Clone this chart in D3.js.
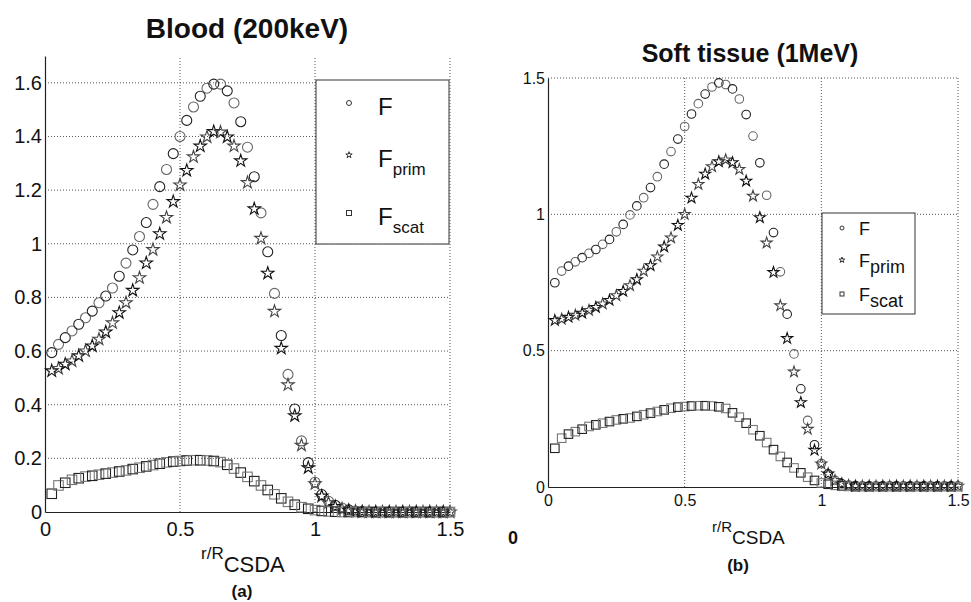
<!DOCTYPE html>
<html>
<head>
<meta charset="utf-8">
<script src="https://cdn.jsdelivr.net/npm/d3@7"></script>
<style>
  body { margin: 0; background: #fff; }
  text { font-family: "Liberation Sans", Arial, sans-serif; fill: #111; }
</style>
</head>
<body>
<div id="chart"></div>
<script>
// r / R_CSDA sample positions (same grid in both panels)
var rValues = [0.025,0.05,0.075,0.1,0.125,0.15,0.175,0.2,0.225,0.25,0.275,0.3,0.325,0.35,0.375,0.4,0.425,0.45,0.475,0.5,
               0.525,0.55,0.575,0.6,0.625,0.65,0.675,0.7,0.725,0.75,0.775,0.8,0.825,0.85,0.875,0.9,0.925,0.95,0.975,1.0,
               1.025,1.05,1.075,1.1,1.125,1.15,1.175,1.2,1.225,1.25,1.275,1.3,1.325,1.35,1.375,1.4,1.425,1.45,1.475,1.5];

// (a) Blood 200keV
var bloodF = [0.594,0.625,0.65,0.675,0.70,0.724,0.749,0.78,0.805,0.835,0.879,0.928,0.977,1.027,1.079,1.147,1.213,1.277,1.336,1.40,
              1.46,1.51,1.55,1.58,1.595,1.595,1.57,1.525,1.455,1.36,1.25,1.115,0.97,0.815,0.658,0.513,0.384,0.265,0.184,0.111,
              0.065,0.04,0.025,0.015,0.008,0.004,0.002,0.001,0,0,0,0,0,0,0,0,0,0,0,0];
var bloodPrim = [0.526,0.535,0.551,0.563,0.582,0.60,0.619,0.644,0.671,0.705,0.743,0.78,0.826,0.873,0.928,0.978,1.037,1.098,1.157,1.219,
                 1.273,1.324,1.364,1.398,1.418,1.416,1.398,1.364,1.309,1.228,1.13,1.02,0.89,0.748,0.61,0.474,0.359,0.249,0.165,0.105,
                 0.059,0.034,0.02,0.011,0.006,0.003,0.001,0,0,0,0,0,0,0,0,0,0,0,0,0];
var bloodScat = [0.068,0.099,0.109,0.12,0.126,0.132,0.135,0.139,0.143,0.147,0.151,0.155,0.16,0.165,0.17,0.175,0.18,0.185,0.188,0.19,
                 0.192,0.193,0.193,0.192,0.19,0.186,0.176,0.162,0.147,0.131,0.115,0.099,0.082,0.066,0.051,0.038,0.027,0.018,0.012,0.007,
                 0.004,0.002,0.001,0,0,0,0,0,0,0,0,0,0,0,0,0,0,0,0,0];

// (b) Soft tissue 1MeV
var tissueF = [0.749,0.792,0.81,0.826,0.841,0.857,0.871,0.89,0.908,0.936,0.963,0.998,1.031,1.061,1.098,1.138,1.184,1.23,1.276,1.322,
               1.368,1.406,1.441,1.467,1.482,1.476,1.46,1.423,1.366,1.287,1.189,1.07,0.933,0.789,0.634,0.488,0.36,0.244,0.155,0.086,
               0.048,0.024,0.012,0.007,0.005,0.004,0.004,0.004,0.004,0.004,0.004,0.004,0.004,0.004,0.004,0.004,0.004,0.004,0.004,0.004];
var tissuePrim = [0.611,0.616,0.623,0.63,0.638,0.648,0.659,0.672,0.685,0.702,0.718,0.739,0.761,0.792,0.812,0.844,0.881,0.914,0.96,1.0,
                  1.06,1.11,1.148,1.175,1.193,1.2,1.19,1.165,1.122,1.067,0.988,0.895,0.787,0.665,0.545,0.422,0.31,0.212,0.135,0.085,
                  0.048,0.024,0.012,0.006,0.003,0.003,0.003,0.003,0.003,0.003,0.003,0.003,0.003,0.003,0.003,0.003,0.003,0.003,0.003,0.003];
var tissueScat = [0.142,0.179,0.194,0.203,0.212,0.222,0.228,0.234,0.24,0.246,0.25,0.253,0.259,0.265,0.271,0.277,0.283,0.289,0.293,0.295,
                  0.297,0.298,0.298,0.297,0.294,0.288,0.272,0.256,0.234,0.21,0.188,0.163,0.137,0.112,0.09,0.07,0.052,0.036,0.024,0.015,
                  0.01,0.006,0.004,0.002,0.001,0.001,0.001,0.001,0.001,0.001,0.001,0.001,0.001,0.001,0.001,0.001,0.001,0.001,0.001,0.001];

var xTicks = [0, 0.5, 1, 1.5];
var yTicksA = [0, 0.2, 0.4, 0.6, 0.8, 1, 1.2, 1.4, 1.6];
var yTicksB = [0, 0.5, 1, 1.5];

var width = 971, height = 602;
var svg = d3.select("#chart").append("svg")
            .attr("width", width)
            .attr("height", height);

function drawPanel(p) {
    var x = d3.scaleLinear().domain([0, 1.5]).range([p.left, p.right]);
    var y = d3.scaleLinear().domain([0, p.ymax]).range([p.bottom, p.top]);
    var g = svg.append("g");

    // dotted grid
    g.selectAll(".gy").data(p.yTicks.filter(d => d > 0)).enter()
        .append("line")
        .attr("x1", p.left).attr("x2", p.right)
        .attr("y1", d => y(d)).attr("y2", d => y(d))
        .attr("stroke", "#555").attr("stroke-width", 1)
        .attr("stroke-dasharray", "1,2");
    g.selectAll(".gx").data(xTicks.filter(d => d > 0)).enter()
        .append("line")
        .attr("x1", d => x(d)).attr("x2", d => x(d))
        .attr("y1", p.bottom).attr("y2", p.top)
        .attr("stroke", "#555").attr("stroke-width", 1)
        .attr("stroke-dasharray", "1,2");

    // axes
    var ax = g.append("g")
        .attr("transform", "translate(0," + p.bottom + ")")
        .call(d3.axisBottom(x).tickValues(xTicks).tickFormat(d3.format("")).tickSize(0).tickPadding(p.xPad));
    var ay = g.append("g")
        .attr("transform", "translate(" + p.left + ",0)")
        .call(d3.axisLeft(y).tickValues(p.yTicks).tickFormat(d3.format("")).tickSize(0).tickPadding(3));
    [ax, ay].forEach(a => {
        a.select(".domain").attr("stroke", "#222").attr("stroke-width", 1.2);
        a.selectAll("text").attr("font-size", p.tickFont).attr("fill", "#111")
            .attr("font-family", "Liberation Sans, Arial, sans-serif");
    });

    // markers
    g.append("g").selectAll("circle").data(p.F).enter().append("circle")
        .attr("cx", (d, i) => x(rValues[i])).attr("cy", d => y(d))
        .attr("r", p.mr).attr("fill", "none")
        .attr("stroke", (d, i) => i % 2 ? "#666" : "#222").attr("stroke-width", 1.1);

    var star = d3.symbol().type(d3.symbolStar).size(p.starSize);
    g.append("g").selectAll("path").data(p.prim).enter().append("path")
        .attr("d", star)
        .attr("transform", (d, i) => "translate(" + x(rValues[i]) + "," + y(d) + ")")
        .attr("fill", "none").attr("stroke", (d, i) => i % 2 ? "#444" : "#111").attr("stroke-width", 1.1);

    g.append("g").selectAll("rect").data(p.scat).enter().append("rect")
        .attr("x", (d, i) => x(rValues[i]) - p.sq / 2).attr("y", d => y(d) - p.sq / 2)
        .attr("width", p.sq).attr("height", p.sq)
        .attr("fill", "none").attr("stroke", (d, i) => i % 2 ? "#777" : "#222").attr("stroke-width", 1.1);

    // title
    svg.append("text").attr("x", p.titleX).attr("y", p.titleY)
        .attr("text-anchor", "middle").attr("font-size", p.titleFont).attr("font-weight", "bold")
        .text(p.title);

    // x label  r/R_CSDA
    var xl = svg.append("text").attr("x", p.xlabX).attr("y", p.xlabY);
    xl.append("tspan").attr("font-size", p.xlabSmall).text("r/R");
    xl.append("tspan").attr("font-size", p.xlabBig).attr("dy", p.xlabDy).text("CSDA");

    // legend
    var L = p.legend;
    var lg = svg.append("g");
    lg.append("rect").attr("x", L.x).attr("y", L.y).attr("width", L.w).attr("height", L.h)
        .attr("fill", "#fff").attr("stroke", "#333").attr("stroke-width", 1);
    var items = [{t: "", type: "c"}, {t: "prim", type: "s"}, {t: "scat", type: "q"}];
    items.forEach((it, k) => {
        var cy = L.rows[k];
        if (it.type === "c") lg.append("circle").attr("cx", L.mx).attr("cy", cy).attr("r", L.ms)
            .attr("fill", "none").attr("stroke", "#333");
        if (it.type === "s") lg.append("path").attr("d", d3.symbol().type(d3.symbolStar).size(L.ms * 5)())
            .attr("transform", "translate(" + L.mx + "," + cy + ")").attr("fill", "none").attr("stroke", "#333");
        if (it.type === "q") lg.append("rect").attr("x", L.mx - L.ms).attr("y", cy - L.ms)
            .attr("width", L.ms * 2).attr("height", L.ms * 2).attr("fill", "none").attr("stroke", "#333");
        var t = lg.append("text").attr("x", L.tx).attr("y", cy + L.base);
        t.append("tspan").attr("font-size", L.fs).text("F");
        if (it.t) t.append("tspan").attr("font-size", L.sfs).attr("dy", L.sdy).text(it.t);
    });

    // caption
    svg.append("text").attr("x", p.capX).attr("y", p.capY).attr("text-anchor", "middle")
        .attr("font-family", "Liberation Serif, Times New Roman, serif")
        .attr("font-weight", "bold").attr("font-size", 17).text(p.caption);
}

drawPanel({
    left: 45, right: 450, top: 56, bottom: 512, ymax: 1.7, yTicks: yTicksA,
    tickFont: 20, xPad: 10,
    F: bloodF, prim: bloodPrim, scat: bloodScat,
    mr: 5, starSize: 48, sq: 9.5,
    title: "Blood (200keV)", titleX: 247, titleY: 38, titleFont: 28,
    xlabX: 201, xlabY: 559, xlabSmall: 17, xlabBig: 22, xlabDy: 13,
    legend: {x: 316, y: 80, w: 133, h: 164, rows: [103, 155, 213], mx: 349, ms: 2.5, tx: 378,
             base: 12, fs: 24, sfs: 17, sdy: 8},
    caption: "(a)", capX: 242, capY: 597
});

drawPanel({
    left: 548, right: 958, top: 78, bottom: 487, ymax: 1.5, yTicks: yTicksB,
    tickFont: 16, xPad: 8,
    F: tissueF, prim: tissuePrim, scat: tissueScat,
    mr: 4.3, starSize: 38, sq: 8.5,
    title: "Soft tissue (1MeV)", titleX: 750, titleY: 62, titleFont: 25,
    xlabX: 712, xlabY: 532, xlabSmall: 15, xlabBig: 19, xlabDy: 12,
    legend: {x: 822, y: 213, w: 93, h: 101, rows: [228, 260, 294], mx: 842, ms: 2, tx: 859,
             base: 7, fs: 18, sfs: 18, sdy: 6},
    caption: "(b)", capX: 738, capY: 571
});

// stray "0" from the scanned page
svg.append("text").attr("x", 513).attr("y", 544).attr("text-anchor", "middle")
    .attr("font-family", "Liberation Serif, Times New Roman, serif")
    .attr("font-weight", "bold").attr("font-size", 18).text("0");
</script>
</body>
</html>
